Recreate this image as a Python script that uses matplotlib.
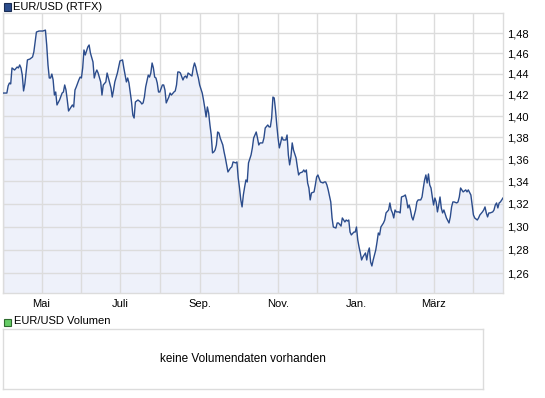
import matplotlib
matplotlib.use("Agg")
import matplotlib.pyplot as plt
import matplotlib.dates as mdates
from matplotlib.patches import Rectangle
from matplotlib.ticker import FixedLocator, NullLocator, FuncFormatter
import pandas as pd

# EUR/USD daily rate, April 2011 - April 2012
months = ["2011-04", "2011-05", "2011-06", "2011-07", "2011-08", "2011-09", "2011-10",
          "2011-11", "2011-12", "2012-01", "2012-02", "2012-03", "2012-04"]
days = [
    [1, 4, 5, 6, 7, 8, 10, 12, 13, 14, 15, 16, 17, 18, 19, 20, 22, 24, 25, 26, 27, 29],
    [2, 4, 5, 6, 7, 8, 9, 10, 11, 12, 13, 15, 17, 18, 19, 20, 21, 22, 24, 25, 26, 27, 28, 30, 31],
    [1, 2, 3, 4, 6, 7, 8, 10, 11, 12, 13, 14, 16, 17, 18, 20, 21, 22, 24, 25, 26, 27, 29, 30],
    [1, 3, 4, 5, 6, 7, 8, 10, 11, 12, 13, 15, 16, 17, 18, 19, 20, 21, 23, 24, 25, 26, 27, 28, 29, 30, 31],
    [1, 3, 4, 5, 6, 8, 9, 10, 12, 13, 14, 15, 16, 17, 19, 20, 21, 22, 23, 25, 26, 27, 28, 29, 30, 31],
    [1, 3, 4, 5, 6, 7, 8, 9, 10, 11, 12, 13, 14, 15, 16, 17, 19, 20, 21, 23, 24, 25, 26, 27, 29, 30],
    [1, 2, 3, 4, 5, 6, 7, 8, 9, 11, 12, 13, 14, 15, 16, 17, 18, 20, 21, 22, 24, 25, 26, 27, 28, 29, 30, 31],
    [1, 2, 3, 4, 5, 7, 8, 9, 10, 11, 12, 13, 15, 16, 17, 18, 20, 21, 22, 23, 24, 25, 26, 27, 29, 30],
    [1, 2, 4, 6, 7, 8, 9, 10, 12, 13, 14, 16, 17, 18, 20, 21, 23, 24, 25, 26, 27, 28, 30, 31],
    [1, 2, 3, 4, 5, 6, 7, 8, 9, 10, 11, 12, 13, 14, 16, 17, 18, 19, 20, 22, 23, 24, 26, 27, 28, 29, 30, 31],
    [1, 3, 4, 5, 7, 8, 9, 10, 11, 12, 13, 14, 16, 17, 18, 20, 21, 22, 23, 24, 25, 26, 27, 28, 29],
    [1, 2, 3, 4, 5, 6, 7, 8, 9, 11, 13, 14, 15, 16, 17, 19, 20, 21, 22, 23, 24, 26, 27, 28, 30, 31],
    [1, 2, 4, 5, 6, 8, 9, 10, 11, 12, 13, 14, 16, 17, 18, 19, 20, 21, 22, 23, 24],
]
rates = [
    [1.4217, 1.4217, 1.4285, 1.4313, 1.4304, 1.4458, 1.4438, 1.4467, 1.4458, 1.4487, 1.4458,
     1.4389, 1.4237, 1.4304, 1.4419, 1.4536, 1.4545, 1.4565, 1.4614, 1.4712, 1.4810, 1.4820],
    [1.4820, 1.4829, 1.4682, 1.4487, 1.4361, 1.4361, 1.4399, 1.4342, 1.4198, 1.4227, 1.4104,
     1.4151, 1.4217, 1.4227, 1.4294, 1.4246, 1.4151, 1.4047, 1.4085, 1.4104, 1.4085, 1.4246,
     1.4275, 1.4342, 1.4370],
    [1.4361, 1.4458, 1.4633, 1.4584, 1.4663, 1.4682, 1.4604, 1.4516, 1.4361, 1.4409, 1.4438,
     1.4409, 1.4323, 1.4198, 1.4294, 1.4323, 1.4409, 1.4361, 1.4266, 1.4179, 1.4246, 1.4323,
     1.4409, 1.4467],
    [1.4526, 1.4536, 1.4458, 1.4389, 1.4323, 1.4361, 1.4313, 1.4132, 1.4009, 1.3981, 1.4132,
     1.4151, 1.4141, 1.4132, 1.4113, 1.4123, 1.4179, 1.4275, 1.4389, 1.4370, 1.4409, 1.4506,
     1.4458, 1.4370, 1.4361, 1.4313, 1.4227],
    [1.4227, 1.4294, 1.4294, 1.4246, 1.4123, 1.4179, 1.4217, 1.4198, 1.4227, 1.4237, 1.4294,
     1.4419, 1.4419, 1.4409, 1.4342, 1.4370, 1.4380, 1.4361, 1.4409, 1.4389, 1.4380, 1.4458,
     1.4506, 1.4467, 1.4409, 1.4361],
    [1.4294, 1.4217, 1.4151, 1.4075, 1.3991, 1.4085, 1.4028, 1.3916, 1.3823, 1.3658, 1.3667,
     1.3685, 1.3731, 1.3851, 1.3842, 1.3795, 1.3731, 1.3667, 1.3612, 1.3485, 1.3503, 1.3521,
     1.3531, 1.3576, 1.3567, 1.3576],
    [1.3431, 1.3341, 1.3235, 1.3173, 1.3279, 1.3350, 1.3413, 1.3395, 1.3567, 1.3640, 1.3704,
     1.3795, 1.3823, 1.3851, 1.3795, 1.3731, 1.3750, 1.3750, 1.3795, 1.3888, 1.3916, 1.3898,
     1.3898, 1.3981, 1.4179, 1.4170, 1.4057, 1.3916],
    [1.3795, 1.3704, 1.3750, 1.3805, 1.3777, 1.3777, 1.3823, 1.3640, 1.3549, 1.3621, 1.3750,
     1.3685, 1.3612, 1.3531, 1.3458, 1.3476, 1.3485, 1.3503, 1.3485, 1.3503, 1.3386, 1.3341,
     1.3235, 1.3297, 1.3306, 1.3368],
    [1.3440, 1.3458, 1.3395, 1.3386, 1.3395, 1.3395, 1.3368, 1.3324, 1.3217, 1.3076, 1.2997,
     1.2988, 1.3032, 1.3032, 1.3005, 1.3076, 1.3041, 1.3058, 1.3049, 1.3058, 1.2953, 1.2928,
     1.2953, 1.2953],
    [1.2997, 1.2885, 1.2824, 1.2773, 1.2713, 1.2739, 1.2756, 1.2773, 1.2713, 1.2781, 1.2816,
     1.2696, 1.2662, 1.2713, 1.2798, 1.2867, 1.2945, 1.2928, 1.2997, 1.3032, 1.3058, 1.3120,
     1.3146, 1.3208, 1.3146, 1.3120, 1.3076, 1.3146],
    [1.3129, 1.3129, 1.3120, 1.3261, 1.3270, 1.3279, 1.3235, 1.3164, 1.3190, 1.3146, 1.3085,
     1.3058, 1.3146, 1.3217, 1.3235, 1.3235, 1.3261, 1.3341, 1.3413, 1.3458, 1.3386, 1.3467,
     1.3368, 1.3341, 1.3261],
    [1.3190, 1.3252, 1.3217, 1.3129, 1.3190, 1.3261, 1.3164, 1.3120, 1.3146, 1.3076, 1.3032,
     1.3085, 1.3173, 1.3217, 1.3217, 1.3208, 1.3217, 1.3261, 1.3341, 1.3324, 1.3306, 1.3324,
     1.3306, 1.3324, 1.3279, 1.3190],
    [1.3102, 1.3076, 1.3058, 1.3076, 1.3102, 1.3129, 1.3146, 1.3173, 1.3120, 1.3085, 1.3120,
     1.3120, 1.3129, 1.3146, 1.3190, 1.3208, 1.3164, 1.3208, 1.3217, 1.3235, 1.3252],
]

y_ticks = [1.26, 1.28, 1.30, 1.32, 1.34, 1.36, 1.38, 1.40, 1.42, 1.44, 1.46, 1.48]
month_names = {5: "Mai", 7: "Juli", 9: "Sep.", 11: "Nov.", 1: "Jan.", 3: "März"}

dates = []
vals = []
for m, dd, rr in zip(months, days, rates):
    assert len(dd) == len(rr), m
    dates += [pd.Timestamp(f"{m}-{d:02d}") for d in dd]
    vals += rr

plt.rcParams['font.family'] = ['Liberation Sans', 'DejaVu Sans']
plt.rcParams['font.size'] = 8

W, H = 545, 398
grid_col = '#dcdcdc'
line_col = '#2b4c8c'


def box(l, t, r, b):
    return [l / W, 1 - b / H, (r - l) / W, (b - t) / H]


fig = plt.figure(figsize=(W / 100, H / 100), dpi=100)

# price panel
ax = fig.add_axes(box(3, 13, 503, 293))
ax.set_yscale('log')
y_lo, y_hi = 1.2435, 1.50
ax.fill_between(dates, vals, y_lo, color='#eef1fa', lw=0, zorder=1)
ax.plot(dates, vals, color=line_col, lw=1.0, zorder=3)
ax.set_ylim(y_lo, y_hi)
ax.set_xlim(pd.Timestamp('2011-04-01'), pd.Timestamp('2012-04-24'))

ax.yaxis.set_major_locator(FixedLocator(y_ticks))
ax.yaxis.set_minor_locator(NullLocator())
ax.yaxis.set_major_formatter(FuncFormatter(lambda v, p: f"{v:.2f}".replace('.', ',')))
ax.yaxis.tick_right()
ax.xaxis.set_major_locator(mdates.MonthLocator())
ax.xaxis.set_major_formatter(
    FuncFormatter(lambda v, p: month_names.get(mdates.num2date(v).month, '')))
ax.tick_params(axis='y', length=0, pad=3, labelsize=8)
ax.tick_params(axis='x', length=0, pad=4, labelsize=8)
ax.grid(True, color=grid_col, lw=1)
ax.set_axisbelow('line')
for s in ax.spines.values():
    s.set_color(grid_col)
    s.set_linewidth(1)

fig.add_artist(Rectangle((3.5 / W, 1 - 10.5 / H), 7 / W, 7 / H, transform=fig.transFigure,
                         facecolor=line_col, edgecolor='#1a2d55', lw=0.8))
fig.text(13 / W, 1 - 7 / H, "EUR/USD (RTFX)", ha='left', va='center', fontsize=8)

# volume panel
ax2 = fig.add_axes(box(3, 329, 483, 389))
ax2.set_xticks([])
ax2.set_yticks([])
for s in ax2.spines.values():
    s.set_color(grid_col)
    s.set_linewidth(1)
ax2.text(0.5, 0.5, "keine Volumendaten vorhanden", ha='center', va='center',
         transform=ax2.transAxes, fontsize=8.5)

fig.add_artist(Rectangle((3.5 / W, 1 - 325.5 / H), 7 / W, 7 / H, transform=fig.transFigure,
                         facecolor='#66cc66', edgecolor='#2e6b2e', lw=0.8))
fig.text(14.5 / W, 1 - 321.5 / H, "EUR/USD Volumen", ha='left', va='center', fontsize=8)

fig.savefig('out.png', dpi=100)
